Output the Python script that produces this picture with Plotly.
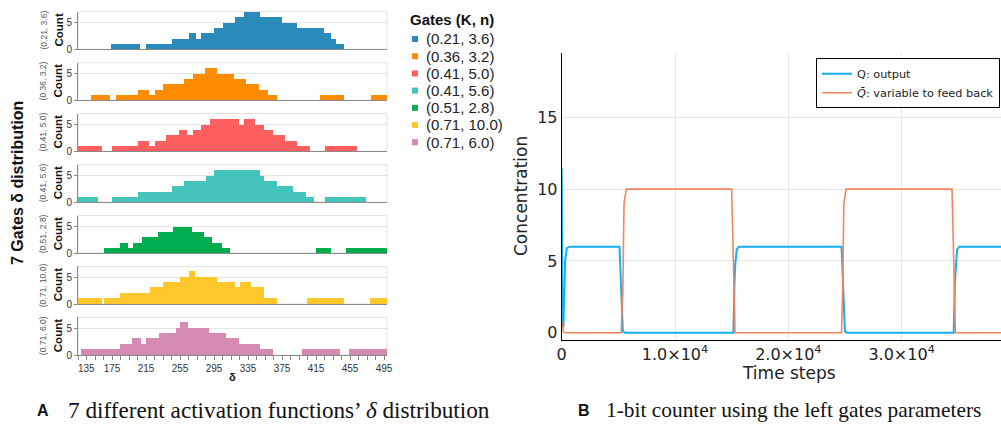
import plotly.graph_objects as go

W, H = 1001, 424

# ---------------- data: left panel (delta distributions per gate) ----------------
gate_labels = ["(0.21, 3.6)", "(0.36, 3.2)", "(0.41, 5.0)", "(0.41, 5.6)",
               "(0.51, 2.8)", "(0.71, 10.0)", "(0.71, 6.0)"]
gate_colors = ["#2A8BBA", "#FF8C00", "#FF5F5F", "#45C4BC", "#00AE50", "#FFC72C", "#D48AB2"]

# bin edges (delta) and counts between consecutive edges
edges_021_36 = [174, 208, 215, 245, 265, 274, 280, 295, 305, 320, 330, 349, 375, 393, 424, 433, 438, 448]
counts_021_36 = [1, 0, 1, 2, 3, 2, 3, 4, 5, 6, 7, 6, 5, 4, 3, 2, 1]

edges_036_32 = [150, 173, 180, 205, 218, 225, 235, 260, 270, 284, 299, 319, 333, 348, 359, 369, 420, 448, 480, 508]
counts_036_32 = [1, 0, 1, 2, 1, 2, 3, 4, 5, 6, 5, 4, 3, 2, 1, 0, 1, 0, 1]

edges_041_50 = [134, 163, 175, 205, 218, 225, 239, 254, 263, 270, 280, 290, 324, 330, 343, 354, 364, 378, 393, 408, 425, 463, 498, 508]
counts_041_50 = [1, 0, 1, 2, 1, 2, 3, 4, 3, 4, 5, 6, 5, 6, 5, 4, 3, 2, 1, 0, 1, 0, 1]

edges_041_56 = [134, 158, 175, 205, 245, 260, 286, 295, 349, 354, 369, 388, 403, 413, 425, 474]
counts_041_56 = [1, 0, 1, 2, 3, 4, 5, 6, 5, 4, 3, 2, 1, 0, 1]

edges_051_28 = [166, 184, 194, 200, 210, 229, 247, 269, 283, 293, 304, 314, 415, 433, 450, 508]
counts_051_28 = [1, 2, 1, 2, 3, 4, 5, 4, 3, 2, 1, 0, 1, 0, 1]

edges_071_100 = [134, 163, 165, 184, 220, 235, 255, 265, 273, 299, 320, 325, 339, 354, 369, 404, 448, 478, 508]
counts_071_100 = [1, 0, 1, 2, 3, 4, 5, 6, 5, 4, 3, 4, 3, 1, 0, 1, 0, 1]

edges_071_60 = [139, 184, 199, 209, 215, 230, 250, 255, 264, 289, 309, 324, 349, 364, 399, 443, 454, 508]
counts_071_60 = [1, 2, 3, 2, 3, 4, 5, 6, 5, 4, 3, 2, 1, 0, 1, 0, 1]

gate_edges = [edges_021_36, edges_036_32, edges_041_50, edges_041_56,
              edges_051_28, edges_071_100, edges_071_60]
gate_counts = [counts_021_36, counts_036_32, counts_041_50, counts_041_56,
               counts_051_28, counts_071_100, counts_071_60]

delta_tick_labels = [135, 175, 215, 255, 295, 335, 375, 415, 455, 495]
delta_minor_step = 10

# ---------------- data: right panel (1-bit counter) ----------------
q_time = [0, 60, 150, 300, 450, 700, 5100, 5250, 5400, 5600, 15150, 15250, 15320, 15450, 15650,
          24700, 24850, 25000, 25200, 34600, 34700, 34780, 34900, 35100, 38800]
q_value = [11.5, 0.6, 0.4, 5.0, 5.9, 6.0, 6.0, 3.0, 0.1, 0.0, 0.0, 3.5, 4.8, 5.8, 6.0,
           6.0, 3.0, 0.1, 0.0, 0.0, 3.5, 4.8, 5.8, 6.0, 6.0]
qbar_time = [0, 150, 300, 5250, 5400, 5500, 5700, 15000, 15150, 15300,
             24700, 24800, 24900, 25100, 34450, 34600, 34750, 38800]
qbar_value = [0.8, 0.1, 0.0, 0.0, 3.0, 9.0, 10.0, 10.0, 5.0, 0.0,
              0.0, 3.0, 9.0, 10.0, 10.0, 5.0, 0.0, 0.0]

x_time_ticks = [0, 10000, 20000, 30000]
x_time_labels = ["0", "1.0×10<sup>4</sup>", "2.0×10<sup>4</sup>", "3.0×10<sup>4</sup>"]
y_conc_ticks = [0, 5, 10, 15]

# ---------------- layout helpers ----------------
def px(x):
    return x / W

def py(y):
    return 1 - y / H

SANS = "Liberation Sans, Arial, sans-serif"
DEJA = "DejaVu Sans, sans-serif"
SERIF = "Liberation Serif, Times New Roman, serif"

L_X0, L_X1 = 78, 387
P_TOP0, P_STEP, P_H = 11.7, 50.95, 37.6

fig = go.Figure()
layout = dict(width=W, height=H, margin=dict(l=0, r=0, t=0, b=0, autoexpand=False),
              paper_bgcolor="white", plot_bgcolor="white", bargap=0)
shapes, annotations = [], []

for i in range(7):
    n = i + 1
    xa = "x" if n == 1 else f"x{n}"
    ya = "y" if n == 1 else f"y{n}"
    e = gate_edges[i]
    c = gate_counts[i]
    centers = [(e[k] + e[k + 1]) / 2 for k in range(len(c))]
    widths = [e[k + 1] - e[k] for k in range(len(c))]
    fig.add_trace(go.Bar(x=centers, y=c, width=widths, xaxis=xa, yaxis=ya,
                         marker=dict(color=gate_colors[i], line=dict(width=0)),
                         showlegend=False, name=gate_labels[i]))
    top = P_TOP0 + P_STEP * i
    bot = top + P_H
    last = (i == 6)
    ticktext = [("\u00a0" * 6 + str(v)) if v == delta_tick_labels[0] else str(v)
                for v in delta_tick_labels]
    xdef = dict(
        domain=[px(L_X0), px(L_X1)], anchor=ya, range=[135, 498.5],
        showgrid=False, zeroline=False, showline=True, linecolor="#8a8a8a", linewidth=1,
        showticklabels=last, tickvals=delta_tick_labels, ticktext=ticktext,
        ticks="outside" if last else "", ticklen=4, tickcolor="#8a8a8a",
        tickfont=dict(family=SANS, size=10, color="#333"), tickangle=0,
        fixedrange=True)
    if last:
        xdef["minor"] = dict(tick0=delta_tick_labels[0], dtick=delta_minor_step,
                             ticks="outside", ticklen=4, tickcolor="#8a8a8a", showgrid=False)
    layout["xaxis" if n == 1 else f"xaxis{n}"] = xdef
    layout["yaxis" if n == 1 else f"yaxis{n}"] = dict(
        domain=[py(bot), py(top)], anchor=xa, range=[0, 7],
        tickvals=[0, 5], showgrid=True, gridcolor="#e4e4e4", zeroline=False,
        showline=True, linecolor="#8a8a8a", linewidth=1,
        ticks="outside", ticklen=3, tickcolor="#8a8a8a",
        tickfont=dict(family=SANS, size=10, color="#333"), fixedrange=True)
    # light frame (top/right)
    shapes.append(dict(type="rect", xref="paper", yref="paper",
                       x0=px(L_X0), x1=px(L_X1), y0=py(bot), y1=py(top),
                       line=dict(color="#e2e2e2", width=1), layer="below"))
    annotations.append(dict(text="<b>Count</b>", x=px(58), y=py((top + bot) / 2),
                            xref="paper", yref="paper", textangle=-90, showarrow=False,
                            font=dict(family=SANS, size=11.5, color="#111"),
                            xanchor="center", yanchor="middle"))
    annotations.append(dict(text=gate_labels[i], x=px(43), y=py((top + bot) / 2),
                            xref="paper", yref="paper", textangle=-90, showarrow=False,
                            font=dict(family=SANS, size=8.5, color="#555"),
                            xanchor="center", yanchor="middle"))

annotations.append(dict(text="<b>δ</b>", x=px((L_X0 + L_X1) / 2), y=py(377), xref="paper", yref="paper",
                        showarrow=False, font=dict(family=SANS, size=11, color="#111"),
                        xanchor="center", yanchor="middle"))
annotations.append(dict(text="<b>7 Gates δ distribution</b>", x=px(17), y=py(183), xref="paper",
                        yref="paper", textangle=-90, showarrow=False,
                        font=dict(family=SANS, size=16, color="#111"),
                        xanchor="center", yanchor="middle"))

# manual legend for the gates
annotations.append(dict(text="<b>Gates (K, n)</b>", x=px(408), y=py(20), xref="paper", yref="paper",
                        showarrow=False, font=dict(family=SANS, size=15, color="#111"),
                        xanchor="left", yanchor="middle"))
leg_y = [39, 56.2, 73.4, 90.6, 107.8, 125, 142.2]
for i in range(7):
    shapes.append(dict(type="rect", xref="paper", yref="paper",
                       x0=px(412), x1=px(418), y0=py(leg_y[i] + 3), y1=py(leg_y[i] - 3),
                       fillcolor=gate_colors[i], line=dict(width=0)))
    annotations.append(dict(text=gate_labels[i], x=px(424), y=py(leg_y[i]), xref="paper", yref="paper",
                            showarrow=False, font=dict(family=SANS, size=15, color="#222"),
                            xanchor="left", yanchor="middle"))

# ---------------- right panel ----------------
fig.add_trace(go.Scatter(x=q_time, y=q_value, mode="lines", name="Q: output",
                         line=dict(color="#14AEF2", width=2), xaxis="x8", yaxis="y8"))
fig.add_trace(go.Scatter(x=qbar_time, y=qbar_value, mode="lines",
                         name="<i>Q\u0304</i>: variable to feed back",
                         line=dict(color="#F5845E", width=1.6), xaxis="x8", yaxis="y8"))

R_X0, R_TOP, R_BOT = 561.7, 52.7, 340
layout["xaxis8"] = dict(domain=[px(R_X0), 1.0], anchor="y8", range=[0, 38773],
                        tickvals=x_time_ticks, ticktext=x_time_labels,
                        showgrid=True, gridcolor="#e6e6e6", zeroline=False,
                        showline=True, linecolor="#000", linewidth=1,
                        tickfont=dict(family=DEJA, size=16, color="#222"), fixedrange=True)
layout["yaxis8"] = dict(domain=[py(R_BOT), py(R_TOP)], anchor="x8", range=[-0.5, 19.5],
                        tickvals=y_conc_ticks, showgrid=True, gridcolor="#e6e6e6", zeroline=False,
                        showline=True, linecolor="#000", linewidth=1,
                        tickfont=dict(family=DEJA, size=16, color="#222"), fixedrange=True)
annotations.append(dict(text="Time steps", x=px(789), y=py(373), xref="paper", yref="paper",
                        showarrow=False, font=dict(family=DEJA, size=17, color="#222"),
                        xanchor="center", yanchor="middle"))
annotations.append(dict(text="Concentration", x=px(521), y=py(196), xref="paper", yref="paper",
                        textangle=-90, showarrow=False, font=dict(family=DEJA, size=17, color="#222"),
                        xanchor="center", yanchor="middle"))

layout["legend"] = dict(x=px(816), y=py(58.3), xanchor="left", yanchor="top",
                        bordercolor="#000", borderwidth=1, bgcolor="white",
                        font=dict(family=DEJA, size=11.3, color="#222"))
layout["showlegend"] = True

# ---------------- captions ----------------
annotations.append(dict(text="<b>A</b>", x=px(43), y=py(410), xref="paper", yref="paper",
                        showarrow=False, font=dict(family=SANS, size=16, color="#111"),
                        xanchor="center", yanchor="middle"))
annotations.append(dict(text="7 different activation functions\u2019 <i>δ</i> distribution",
                        x=px(66), y=py(410), xref="paper", yref="paper", showarrow=False,
                        font=dict(family=SERIF, size=23.2, color="#111"),
                        xanchor="left", yanchor="middle"))
annotations.append(dict(text="<b>B</b>", x=px(584), y=py(410), xref="paper", yref="paper",
                        showarrow=False, font=dict(family=SANS, size=16, color="#111"),
                        xanchor="center", yanchor="middle"))
annotations.append(dict(text="1-bit counter using the left gates parameters",
                        x=px(604), y=py(410), xref="paper", yref="paper", showarrow=False,
                        font=dict(family=SERIF, size=21.4, color="#111"),
                        xanchor="left", yanchor="middle"))

layout["shapes"] = shapes
layout["annotations"] = annotations
fig.update_layout(**layout)
fig.write_html("out.html")
